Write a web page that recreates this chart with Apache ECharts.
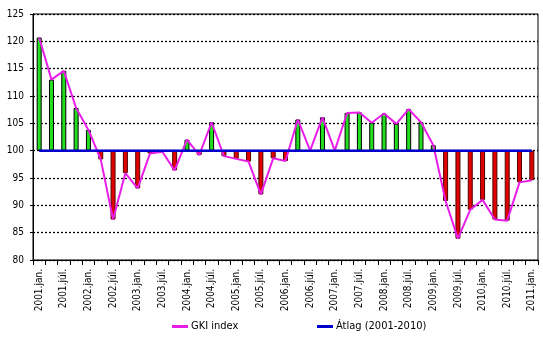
<!DOCTYPE html>
<html>
<head>
<meta charset="utf-8">
<script src="https://cdn.jsdelivr.net/npm/echarts@6/dist/echarts.min.js"></script>
<style>
html,body{margin:0;padding:0;background:#fff;}
#c{width:543px;height:340px;}
</style>
</head>
<body>
<div id="c"></div>
<script>
var categories = [
 "2001.jan.","2001.ápr.","2001.júl.","2001.okt.",
 "2002.jan.","2002.ápr.","2002.júl.","2002.okt.",
 "2003.jan.","2003.ápr.","2003.júl.","2003.okt.",
 "2004.jan.","2004.ápr.","2004.júl.","2004.okt.",
 "2005.jan.","2005.ápr.","2005.júl.","2005.okt.",
 "2006.jan.","2006.ápr.","2006.júl.","2006.okt.",
 "2007.jan.","2007.ápr.","2007.júl.","2007.okt.",
 "2008.jan.","2008.ápr.","2008.júl.","2008.okt.",
 "2009.jan.","2009.ápr.","2009.júl.","2009.okt.",
 "2010.jan.","2010.ápr.","2010.júl.","2010.okt.",
 "2011.jan."
];
var gkiIndex = [
 120.7,113.0,114.6,107.8,
 103.8,98.4,87.4,95.9,
 93.1,99.5,99.8,96.4,
 102.0,99.2,105.2,99.0,
 98.5,98.0,92.0,98.6,
 98.1,105.7,100.0,106.1,
 100.0,106.9,107.0,105.1,
 106.8,104.9,107.6,105.2,
 101.0,90.8,83.9,89.2,
 91.0,87.4,87.2,94.2,
 94.6
];
var atlag = [
 100,100,100,100,100,100,100,100,100,100,
 100,100,100,100,100,100,100,100,100,100,
 100,100,100,100,100,100,100,100,100,100,
 100,100,100,100,100,100,100,100,100,100,
 100
];
var yTicks = [80,85,90,95,100,105,110,115,120,125];

var FONT = '"Liberation Sans Narrow", "DejaVu Sans Condensed", "Liberation Sans", Arial, sans-serif';
var BASE = 100;

var baseData = gkiIndex.map(function(v){ return Math.min(v, BASE); });
var diffData = gkiIndex.map(function(v){
  var up = v >= BASE;
  return {
    value: Math.abs(v - BASE),
    itemStyle: {
      color: up ? '#22e01e' : '#e00000',
      borderColor: up ? '#000000' : '#500000',
      borderWidth: 1
    }
  };
});

var chart = echarts.init(document.getElementById('c'), null, {renderer:'canvas'});
chart.setOption({
  animation: false,
  backgroundColor: '#ffffff',
  grid: {left: 33, right: 5, top: 14, bottom: 80, show: true, borderColor: '#000', borderWidth: 1},
  legend: [
    {data: ['GKI index'], left: 167, top: 316, itemWidth: 16, itemHeight: 3, icon: 'rect', itemGap: 4,
     textStyle: {fontFamily: FONT, fontSize: 11, color: '#000', padding: [0,0,0,-2]}},
    {data: ['Átlag (2001-2010)'], left: 312, top: 316, itemWidth: 16, itemHeight: 3, icon: 'rect',
     textStyle: {fontFamily: FONT, fontSize: 11, color: '#000', padding: [0,0,0,-2]}}
  ],
  xAxis: {
    type: 'category',
    data: categories,
    boundaryGap: true,
    axisLine: {onZero: false, lineStyle: {color: '#000', width: 1}},
    axisTick: {show: true, interval: 0, length: 5, lineStyle: {color: '#000'}},
    axisLabel: {interval: 1, rotate: 90, margin: 9, fontFamily: FONT, fontSize: 10, color: '#000'},
    splitLine: {show: false}
  },
  yAxis: {
    type: 'value',
    min: yTicks[0], max: yTicks[yTicks.length-1], interval: 5,
    axisLine: {show: true, lineStyle: {color: '#000', width: 1}},
    axisTick: {show: true, length: 3, lineStyle: {color: '#000'}},
    axisLabel: {margin: 9, fontFamily: FONT, fontSize: 10, color: '#000'},
    splitLine: {show: true, lineStyle: {color: '#000', width: 1.3, type: [2, 2]}}
  },
  series: [
    {name: 'base', type: 'bar', stack: 'b', barWidth: 5, data: baseData,
     itemStyle: {color: 'transparent'}, silent: true, z: 2},
    {name: 'diff', type: 'bar', stack: 'b', barWidth: 5, data: diffData, z: 2},
    {name: 'GKI index', type: 'line', data: gkiIndex, showSymbol: false, symbol: 'none',
     lineStyle: {color: '#e81ee8', width: 2}, itemStyle: {color: '#e81ee8'}, z: 3},
    {name: 'Átlag (2001-2010)', type: 'line', data: atlag, showSymbol: false, symbol: 'none',
     lineStyle: {color: '#0000cc', width: 2.5}, itemStyle: {color: '#0000cc'}, z: 4}
  ]
});
</script>
</body>
</html>
